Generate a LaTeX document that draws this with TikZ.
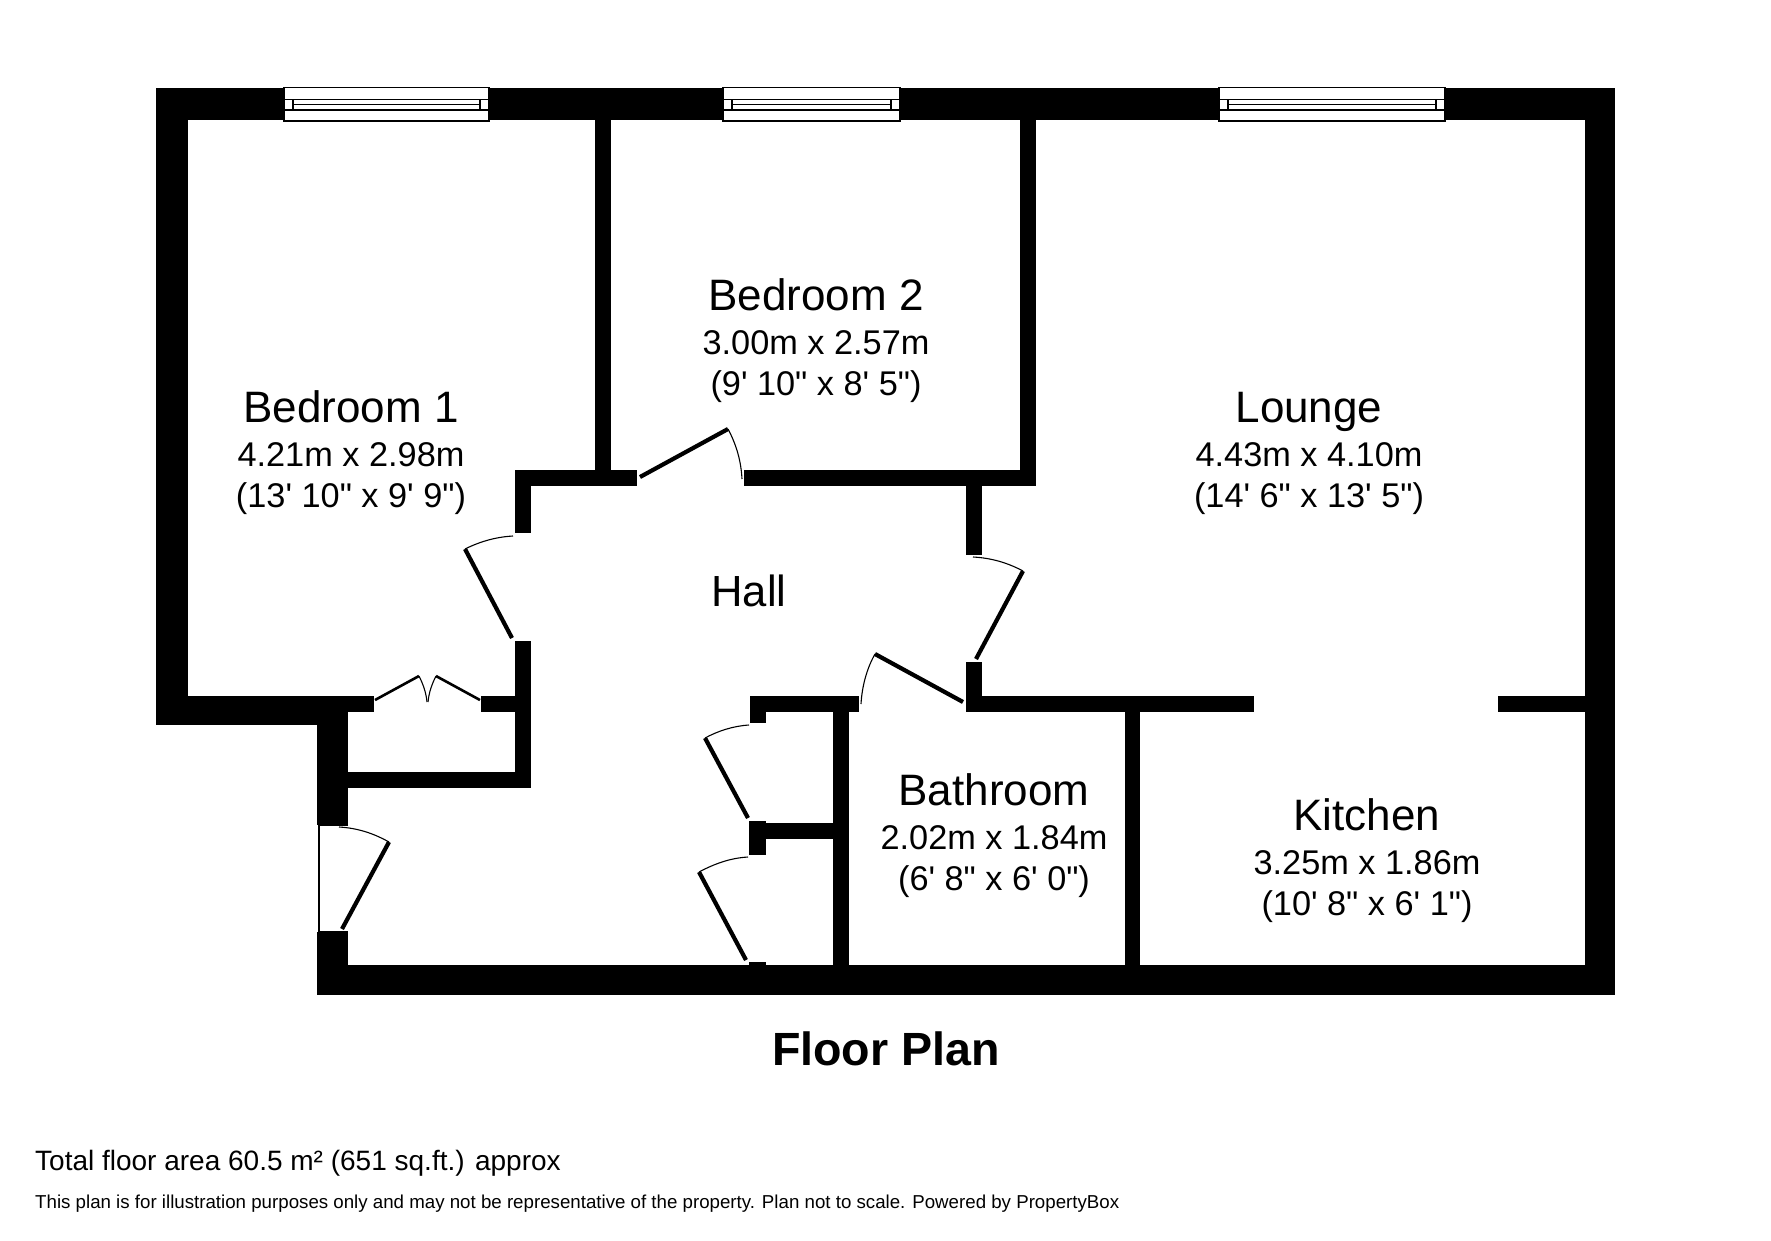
\documentclass[tikz,border=0pt]{standalone}
\usepackage{fontspec}
\newfontfamily\planfont{Liberation Sans}
\tikzset{x=1pt,y=-1pt,
  wall/.style={fill=black,draw=none},
  leaf/.style={draw=black,line width=4.2pt},
  swing/.style={draw=black,line width=1.1pt},
  winframe/.style={draw=black,fill=white,line width=1.2pt},
  roomlabel/.style={inner sep=0pt,align=center,font=\planfont\fontsize{34.3}{41}\selectfont},
  hall/.style={inner sep=0pt,font=\planfont\fontsize{43.6}{44}\selectfont},
  plantitle/.style={inner sep=0pt,font=\planfont\bfseries\fontsize{46.6}{50}\selectfont},
  area/.style={inner sep=0pt,anchor=base west,font=\planfont\fontsize{28}{30}\selectfont},
  note/.style={inner sep=0pt,anchor=base west,font=\planfont\fontsize{18.7}{22}\selectfont}}
\newcommand{\rname}[1]{{\fontsize{44}{41}\selectfont #1}\\[3pt]}
\newcommand{\wbar}[4]{\fill[wall] (#1,#2) rectangle (#3,#4);}
\newcommand{\planwin}[4]{%
  \draw[winframe] (#1,87.5) rectangle (#2,121);
  \draw[winframe] (#1,99.5) rectangle (#2,110);
  \draw[winframe] (#3,99.5) rectangle (#4,110);
  \draw[black,line width=1.2pt] (#3,104.5) -- (#4,104.5);}
\begin{document}
\begin{tikzpicture}
\useasboundingbox[fill=white] (0,0) rectangle (1771,1240);
% outer walls
\wbar{156}{88}{1615}{120}
\wbar{156}{88}{188}{725}
\wbar{156}{696}{317}{725}
\wbar{156}{696}{374}{712}
\wbar{1585}{88}{1615}{995}
\wbar{317}{965}{1615}{995}
\wbar{317}{696}{348}{825}
\wbar{317}{932}{348}{995}
% inner walls
\wbar{595}{120}{611}{486}
\wbar{1020}{120}{1035.5}{486}
\wbar{515}{470}{637}{486}
\wbar{515}{470}{531}{533}
\wbar{744}{470}{1035.5}{486}
\wbar{966}{486}{982}{555}
\wbar{966}{662}{982}{712}
\wbar{966}{696}{1254}{712}
\wbar{1498}{696}{1585}{712}
\wbar{1125}{712}{1140}{965}
\wbar{750}{696}{859}{712}
\wbar{750}{712}{766}{723}
\wbar{833}{712}{849}{965}
\wbar{749}{821}{766}{855}
\wbar{766}{823}{833}{839}
\wbar{749}{962}{766}{965}
\wbar{481}{696}{531}{712}
\wbar{515}{641}{531}{788}
\wbar{348}{772}{531}{788}
% windows
\planwin{284}{489}{293}{480}
\planwin{723}{900}{732}{891}
\planwin{1219}{1445}{1228}{1436}
% doors
\draw[leaf] (640,477) -- (728,429);
\draw[swing] (728,429) .. controls (736,444) and (741,460) .. (742,479);
\draw[leaf] (1023,571) -- (976,659);
\draw[swing] (973,557) .. controls (992,558) and (1008,563) .. (1023,571);
\draw[leaf] (963,702) -- (875,654);
\draw[swing] (875,654) .. controls (867,668) and (862,686) .. (861,704);
\draw[leaf] (465,549) -- (512,638);
\draw[swing] (513,536) .. controls (495,537) and (479,542) .. (465,549);
\draw[leaf,line width=2.6pt] (375,700) -- (419,676);
\draw[leaf,line width=2.6pt] (480,700) -- (436,676);
\draw[swing] (419,676) .. controls (423,684) and (426,692) .. (427,702);
\draw[swing] (436,676) .. controls (432,684) and (429,692) .. (428,702);
\draw[leaf] (705,738) -- (748,818);
\draw[swing] (749,725) .. controls (733,726) and (718,731) .. (705,738);
\draw[leaf] (699,872) -- (746,960);
\draw[swing] (748,857) .. controls (730,858) and (714,864) .. (699,872);
\draw[leaf] (389,842) -- (342,929);
\draw[swing] (339,827) .. controls (357,828) and (373,833) .. (389,842);
\draw[swing] (348,825) -- (319,825) -- (319,932) -- (348,932);
% labels
\node[roomlabel] (bed1) at (351,453) {\rname{Bedroom 1}4.21m x 2.98m\\(13' 10" x 9' 9")};
\node[roomlabel] (bed2) at (816,341) {\rname{Bedroom 2}3.00m x 2.57m\\(9' 10" x 8' 5")};
\node[roomlabel] (lounge) at (1309,453) {\rname{Lounge}4.43m x 4.10m\\(14' 6" x 13' 5")};
\node[hall] (hallname) at (749,591) {Hall};
\node[roomlabel] (bath) at (994,836) {\rname{Bathroom}2.02m x 1.84m\\(6' 8" x 6' 0")};
\node[roomlabel] (kitchen) at (1367,861) {\rname{Kitchen}3.25m x 1.86m\\(10' 8" x 6' 1")};
\node[plantitle] (title) at (886,1049) {Floor Plan};
\node[area] (total) at (35,1170) {Total floor area 60.5 m² (651 sq.ft.) approx};
\node[note] (disclaimer) at (35,1208) {This plan is for illustration purposes only and may not be representative of the property. Plan not to scale. Powered by PropertyBox};
\end{tikzpicture}
\end{document}
